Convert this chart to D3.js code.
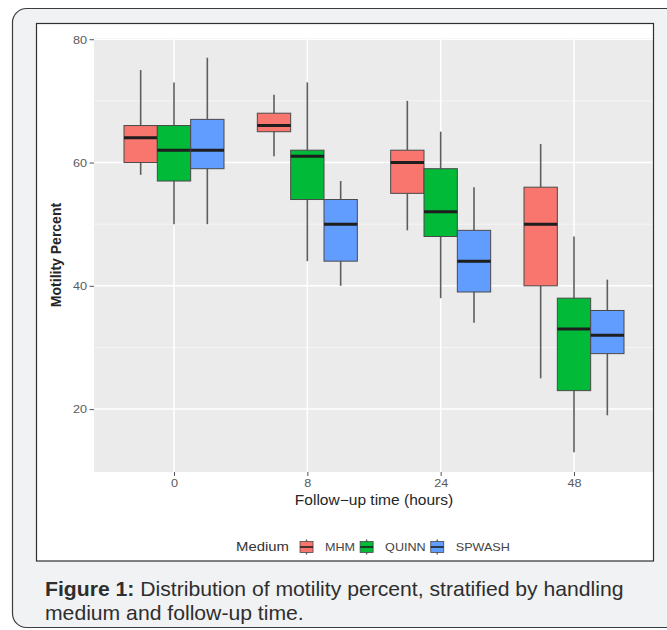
<!DOCTYPE html>
<html>
<head>
<meta charset="utf-8">
<script src="https://cdn.jsdelivr.net/npm/d3@7"></script>
<style>
  html, body { margin: 0; padding: 0; background: #ffffff; }
  svg { display: block; font-family: "Liberation Sans", Arial, Helvetica, sans-serif; }
</style>
</head>
<body>
<svg id="chart" width="667" height="630"></svg>
<script>
// ---------- data ----------
const categories = ["0", "8", "24", "48"];
const media = ["MHM", "QUINN", "SPWASH"];
const mediaColors = ["#F8766D", "#00BA38", "#619CFF"];
// each entry: [lower whisker, Q1, median, Q3, upper whisker] for categories 0, 8, 24, 48
const mhm    = [[58, 60, 64, 66, 75], [61, 65, 66, 68, 71], [49, 55, 60, 62, 70], [25, 40, 50, 56, 63]];
const quinn  = [[50, 57, 62, 66, 73], [44, 54, 61, 62, 73], [38, 48, 52, 59, 65], [13, 23, 33, 38, 48]];
const spwash = [[50, 59, 62, 67, 77], [40, 44, 50, 54, 57], [34, 39, 44, 49, 56], [19, 29, 32, 36, 41]];
const yTicks = [20, 40, 60, 80];
const yMinorTicks = [30, 50, 70];
const xTitle = "Follow\u2212up time (hours)";
const yTitle = "Motility Percent";
const legendTitle = "Medium";
const captionBold = "Figure 1:";
const captionLine1 = " Distribution of motility percent, stratified by handling";
const captionLine2 = "medium and follow-up time.";

const seriesValues = [mhm, quinn, spwash];

// ---------- layout ----------
const svg = d3.select("#chart");
const panel = { left: 94, top: 38, right: 654, bottom: 472 };

// outer card
svg.append("rect")
  .attr("x", 12.5).attr("y", 8.5).attr("width", 700).attr("height", 619)
  .attr("rx", 14).attr("ry", 14)
  .attr("fill", "#f1f2f4").attr("stroke", "#3c3c3c").attr("stroke-width", 1.2);

// figure frame (white)
svg.append("rect")
  .attr("x", 36.5).attr("y", 23.5).attr("width", 617).attr("height", 537.5)
  .attr("fill", "#ffffff");

// scales (ggplot-style 5% expansion of the data range)
const allVals = seriesValues.flat(2);
const lo = d3.min(allVals), hi = d3.max(allVals);
const pad = (hi - lo) * 0.05;
const y = d3.scaleLinear().domain([lo - pad, hi + pad]).range([panel.bottom, panel.top]);
const x = d3.scalePoint().domain(categories).range([panel.left, panel.right]).padding(0.6);
const boxW = x.step() * 0.25;

// panel background
svg.append("rect")
  .attr("x", panel.left).attr("y", panel.top)
  .attr("width", panel.right - panel.left).attr("height", panel.bottom - panel.top)
  .attr("fill", "#ebebeb");

const grid = svg.append("g");
grid.selectAll(".minor").data(yMinorTicks).join("line")
  .attr("x1", panel.left).attr("x2", panel.right)
  .attr("y1", d => y(d)).attr("y2", d => y(d))
  .attr("stroke", "#f7f7f7").attr("stroke-width", 0.8);
grid.selectAll(".major").data(yTicks).join("line")
  .attr("x1", panel.left).attr("x2", panel.right)
  .attr("y1", d => y(d)).attr("y2", d => y(d))
  .attr("stroke", "#ffffff").attr("stroke-width", 1.5);
grid.selectAll(".vmajor").data(categories).join("line")
  .attr("x1", d => x(d)).attr("x2", d => x(d))
  .attr("y1", panel.top).attr("y2", panel.bottom)
  .attr("stroke", "#ffffff").attr("stroke-width", 1.5);

// boxes
const boxes = svg.append("g");
media.forEach((m, j) => {
  seriesValues[j].forEach((v, i) => {
    const cx = x(categories[i]) + (j - 1) * boxW;
    const [lw, q1, med, q3, uw] = v;
    const g = boxes.append("g");
    g.append("line").attr("x1", cx).attr("x2", cx).attr("y1", y(uw)).attr("y2", y(q3))
      .attr("stroke", "#5e5e5e").attr("stroke-width", 1.6);
    g.append("line").attr("x1", cx).attr("x2", cx).attr("y1", y(q1)).attr("y2", y(lw))
      .attr("stroke", "#5e5e5e").attr("stroke-width", 1.6);
    g.append("rect")
      .attr("x", cx - boxW / 2).attr("y", y(q3))
      .attr("width", boxW).attr("height", y(q1) - y(q3))
      .attr("fill", mediaColors[j]).attr("stroke", "#4a4a4a").attr("stroke-width", 1);
    g.append("line").attr("x1", cx - boxW / 2).attr("x2", cx + boxW / 2)
      .attr("y1", y(med)).attr("y2", y(med))
      .attr("stroke", "#1e1e1e").attr("stroke-width", 3);
  });
});

// frame border on top
svg.append("rect")
  .attr("x", 36.5).attr("y", 23.5).attr("width", 617).attr("height", 537.5)
  .attr("fill", "none").attr("stroke", "#2f2f2f").attr("stroke-width", 1.2);

// axes
const tickFont = 11, tickScale = 1.15;
const yAxis = svg.append("g").attr("transform", `translate(${panel.left},0)`)
  .call(d3.axisLeft(y).tickValues(yTicks).tickSize(4.5).tickSizeOuter(0));
yAxis.select(".domain").remove();
yAxis.selectAll(".tick line").attr("stroke", "#555").attr("stroke-width", 1);
yAxis.selectAll(".tick text")
  .attr("x", 0).attr("dy", "0.35em")
  .attr("transform", `translate(-7,0) scale(${tickScale},1)`)
  .attr("font-size", tickFont).attr("fill", "#5a5a5a").attr("font-family", null);

const xAxis = svg.append("g").attr("transform", `translate(0,${panel.bottom})`)
  .call(d3.axisBottom(x).tickSize(4).tickSizeOuter(0));
xAxis.select(".domain").remove();
xAxis.selectAll(".tick line").attr("stroke", "#555").attr("stroke-width", 1);
xAxis.selectAll(".tick text")
  .attr("y", 0).attr("dy", "0.71em")
  .attr("transform", `translate(0,7) scale(${tickScale},1)`)
  .attr("font-size", tickFont).attr("fill", "#5a5a5a").attr("font-family", null);
svg.selectAll(".tick text").attr("font-family", "Liberation Sans, Arial, sans-serif");

// axis titles
svg.append("text")
  .attr("transform", `translate(${(panel.left + panel.right) / 2},505) scale(1.11,1)`)
  .attr("text-anchor", "middle").attr("font-size", 14).attr("fill", "#262626")
  .text(xTitle);

svg.append("text")
  .attr("transform", `translate(56,255) rotate(-90)`)
  .attr("text-anchor", "middle").attr("dy", "0.35em")
  .attr("font-size", 14).attr("font-weight", "bold").attr("fill", "#262626")
  .text(yTitle);

// legend
const legend = svg.append("g");
const legY = 547;
const titleScale = 1.19, labelScale = 1.2;
const titleEl = legend.append("text").attr("font-size", 12.5).attr("fill", "#333")
  .attr("dy", "0.35em").text(legendTitle);
const titleW = titleEl.node().getComputedTextLength() * titleScale;
const labelEls = media.map(m => legend.append("text").attr("font-size", 10.5).attr("fill", "#444")
  .attr("dy", "0.35em").text(m));
const labelWs = labelEls.map(e => e.node().getComputedTextLength() * labelScale);
const keyW = 13, gapTitle = 11, gapKey = 12, gapItem = 5;
let total = titleW + gapTitle;
labelWs.forEach((w, j) => { total += keyW + gapKey + w + (j < media.length - 1 ? gapItem : 0); });
let cursor = (panel.left + panel.right) / 2 - total / 2 - 1;
titleEl.attr("transform", `translate(${cursor},${legY}) scale(${titleScale},1)`);
cursor += titleW + gapTitle;
media.forEach((m, j) => {
  const kx = cursor, kc = kx + keyW / 2;
  legend.append("line").attr("x1", kc).attr("x2", kc).attr("y1", legY - 7.5).attr("y2", legY + 7.5)
    .attr("stroke", "#5e5e5e").attr("stroke-width", 1.4);
  legend.append("rect").attr("x", kx).attr("y", legY - 5.5).attr("width", keyW).attr("height", 11)
    .attr("fill", mediaColors[j]).attr("stroke", "#4a4a4a").attr("stroke-width", 0.8);
  legend.append("line").attr("x1", kx).attr("x2", kx + keyW).attr("y1", legY).attr("y2", legY)
    .attr("stroke", "#1e1e1e").attr("stroke-width", 1.6);
  cursor += keyW + gapKey;
  labelEls[j].attr("transform", `translate(${cursor},${legY}) scale(${labelScale},1)`);
  cursor += labelWs[j] + gapItem;
});

// caption
const cap1 = svg.append("text").attr("x", 0).attr("y", 0)
  .attr("font-size", 20).attr("fill", "#2e2e2e");
cap1.append("tspan").attr("font-weight", "bold").text(captionBold);
cap1.append("tspan").text(captionLine1);
const cap1W = cap1.node().getComputedTextLength();
const capScale = 579 / cap1W;
cap1.attr("transform", `translate(45,596) scale(${capScale},1)`);
svg.append("text").attr("transform", `translate(45,620) scale(${capScale},1)`)
  .attr("font-size", 20).attr("fill", "#2e2e2e").text(captionLine2);
</script>
</body>
</html>
